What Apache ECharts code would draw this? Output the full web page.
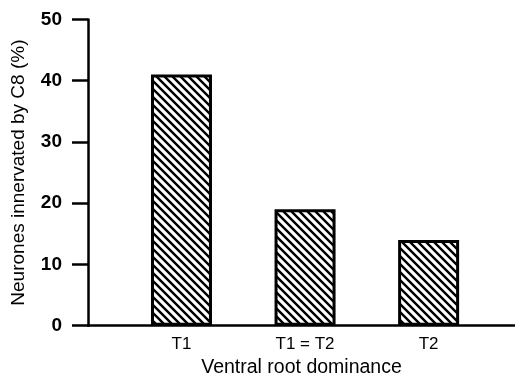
<!DOCTYPE html>
<html>
<head>
<meta charset="utf-8">
<script src="https://cdn.jsdelivr.net/npm/echarts@6/dist/echarts.min.js"></script>
<style>
  html, body { margin: 0; padding: 0; background: #fff; }
  #chart { width: 515px; height: 377px; }
</style>
</head>
<body>
<div id="chart"></div>
<script>
// data
const categories = ['T1', 'T1 = T2', 'T2']
const percentValues = [41, 19, 14]
const yTicks = [0, 10, 20, 30, 40, 50]

// hatch pattern: diagonal lines top-left -> bottom-right
const makeHatch = () => {
  const size = 8
  const cv = document.createElement('canvas')
  cv.width = size
  cv.height = size
  const ctx = cv.getContext('2d')
  ctx.fillStyle = '#fff'
  ctx.fillRect(0, 0, size, size)
  ctx.strokeStyle = '#000'
  ctx.lineWidth = 2.4
  ctx.beginPath()
  ctx.moveTo(-2, -2); ctx.lineTo(size + 2, size + 2)
  ctx.moveTo(-2, size - 2); ctx.lineTo(2, size + 2)
  ctx.moveTo(size - 2, -2); ctx.lineTo(size + 2, 2)
  ctx.stroke()
  return cv
}

const chart = echarts.init(document.getElementById('chart'), null, { renderer: 'canvas' })

const font = '"Liberation Sans", Arial, sans-serif'

const option = {
  animation: false,
  backgroundColor: '#fff',
  grid: { left: 88, right: 0, top: 19.5, bottom: 51.3, outerBoundsMode: 'none', containLabel: false },
  xAxis: {
    type: 'value',
    min: 0.2435,
    max: 3.699,
    name: 'Ventral root dominance',
    nameLocation: 'middle',
    nameGap: 31,
    nameTextStyle: { fontFamily: font, fontSize: 19.5, color: '#000' },
    axisLine: { show: true, lineStyle: { color: '#000', width: 2.5 } },
    axisTick: { show: false },
    splitLine: { show: false },
    axisLabel: {
      customValues: categories.map((c, i) => i + 1),
      formatter: (v) => categories[Math.round(v) - 1] || '',
      fontFamily: font,
      fontSize: 17,
      color: '#000',
      margin: 10
    }
  },
  yAxis: {
    type: 'value',
    min: yTicks[0],
    max: yTicks[yTicks.length - 1],
    interval: 10,
    name: 'Neurones innervated by C8 (%)',
    nameLocation: 'middle',
    nameGap: 60,
    nameTextStyle: { fontFamily: font, fontSize: 19, color: '#000' },
    axisLine: { show: true, lineStyle: { color: '#000', width: 2.5 } },
    axisTick: { show: true, inside: false, length: 16, lineStyle: { color: '#000', width: 2.5 } },
    splitLine: { show: false },
    axisLabel: { fontFamily: font, fontSize: 19, fontWeight: 'bold', color: '#000', margin: 26 }
  },
  series: [
    {
      type: 'bar',
      barWidth: 61,
      data: categories.map((c, i) => [i + 1, percentValues[i]]),
      itemStyle: {
        color: { image: makeHatch(), repeat: 'repeat' },
        borderColor: '#000',
        borderWidth: 3
      }
    }
  ]
}

chart.setOption(option)
</script>
</body>
</html>
